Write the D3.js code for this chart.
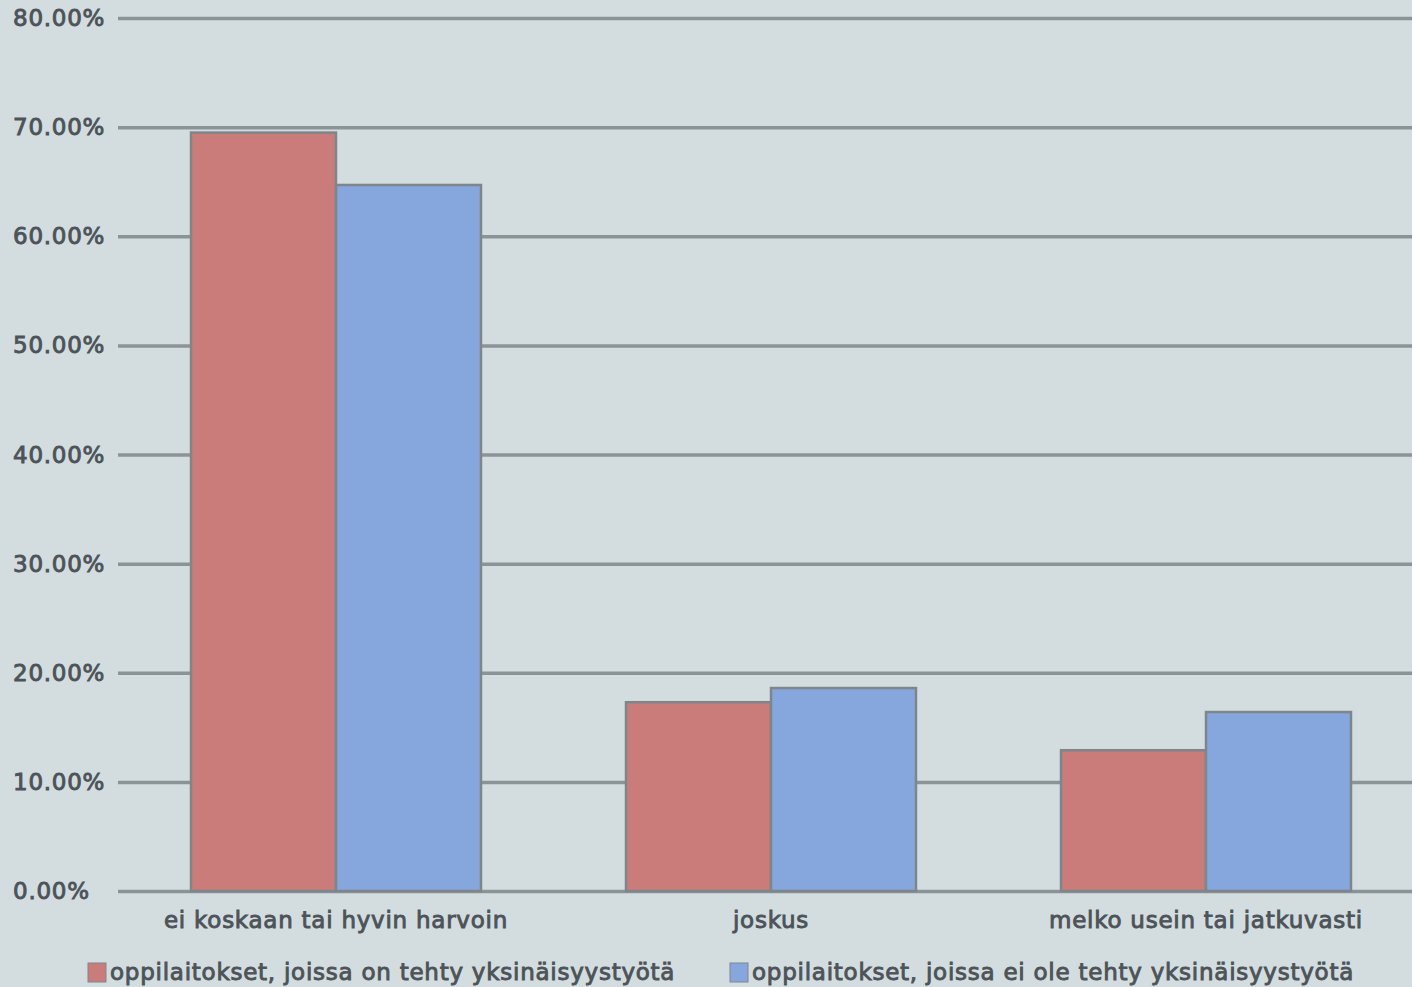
<!DOCTYPE html>
<html>
<head>
<meta charset="utf-8">
<script src="https://cdn.jsdelivr.net/npm/d3@7"></script>
<style>
  html, body { margin: 0; padding: 0; background: #d3dde0; }
  svg { display: block; }
  text { font-family: "DejaVu Sans", sans-serif; font-weight: normal; fill: #4d5358; stroke: #4d5358; stroke-width: 0.9px; letter-spacing: 0.75px; }
</style>
</head>
<body>
<svg id="chart" width="1412" height="987"></svg>
<script>
const categories = ["ei koskaan tai hyvin harvoin", "joskus", "melko usein tai jatkuvasti"];
const seriesNames = ["oppilaitokset, joissa on tehty yksinäisyystyötä", "oppilaitokset, joissa ei ole tehty yksinäisyystyötä"];
const seriesDone = [69.5, 17.3, 12.9];
const seriesNotDone = [64.7, 18.6, 16.4];
const yTicks = [0, 10, 20, 30, 40, 50, 60, 70, 80];
const colors = ["#c97c7a", "#86a6de"];

const W = 1412, H = 987;
const svg = d3.select("#chart");
svg.append("rect").attr("width", W).attr("height", H).attr("fill", "#d3dde0");

const y = d3.scaleLinear().domain([0, 80]).range([891, 18]);
const x0 = d3.scaleBand().domain(categories).range([118.5, 1423.5]).paddingInner(1/3).paddingOuter(1/6);
const x1 = d3.scaleBand().domain([0, 1]).range([0, x0.bandwidth()]);

// gridlines
const grid = d3.axisLeft(y).tickValues(yTicks).tickSize(-(1412 - 118)).tickFormat("");
const g = svg.append("g").attr("transform", "translate(118,0)").call(grid);
g.select(".domain").remove();
g.selectAll("line").attr("stroke", "#8c9397").attr("stroke-width", 3.5);

// tick labels (left aligned)
svg.append("g").selectAll("text").data(yTicks).join("text")
  .attr("x", 13).attr("y", d => y(d)).attr("dy", "0.35em")
  .attr("font-size", 23).text(d => d.toFixed(2) + "%");

// bars
const data = categories.map((c, i) => ({ c, vals: [seriesDone[i], seriesNotDone[i]] }));
const groups = svg.append("g").selectAll("g").data(data).join("g")
  .attr("transform", d => `translate(${x0(d.c)},0)`);
groups.selectAll("rect").data(d => d.vals.map((v, k) => ({ v, k }))).join("rect")
  .attr("x", d => x1(d.k)).attr("width", x1.bandwidth())
  .attr("y", d => y(d.v)).attr("height", d => y(0) - y(d.v))
  .attr("fill", d => colors[d.k]).attr("stroke", "#7f868b").attr("stroke-width", 2.5);

// category labels
svg.append("g").selectAll("text").data(categories).join("text")
  .attr("x", d => x0(d) + x0.bandwidth() / 2).attr("y", 928)
  .attr("text-anchor", "middle").attr("font-size", 23).text(d => d);

// legend
const legendX = [88, 730];
const leg = svg.append("g").selectAll("g").data(seriesNames).join("g")
  .attr("transform", (d, i) => `translate(${legendX[i]},963)`);
leg.append("rect").attr("width", 18).attr("height", 19).attr("fill", (d, i) => colors[i])
  .attr("stroke", "#7f868b").attr("stroke-width", 1);
leg.append("text").attr("x", 22).attr("y", 17).attr("font-size", 23).text(d => d);
</script>
</body>
</html>
